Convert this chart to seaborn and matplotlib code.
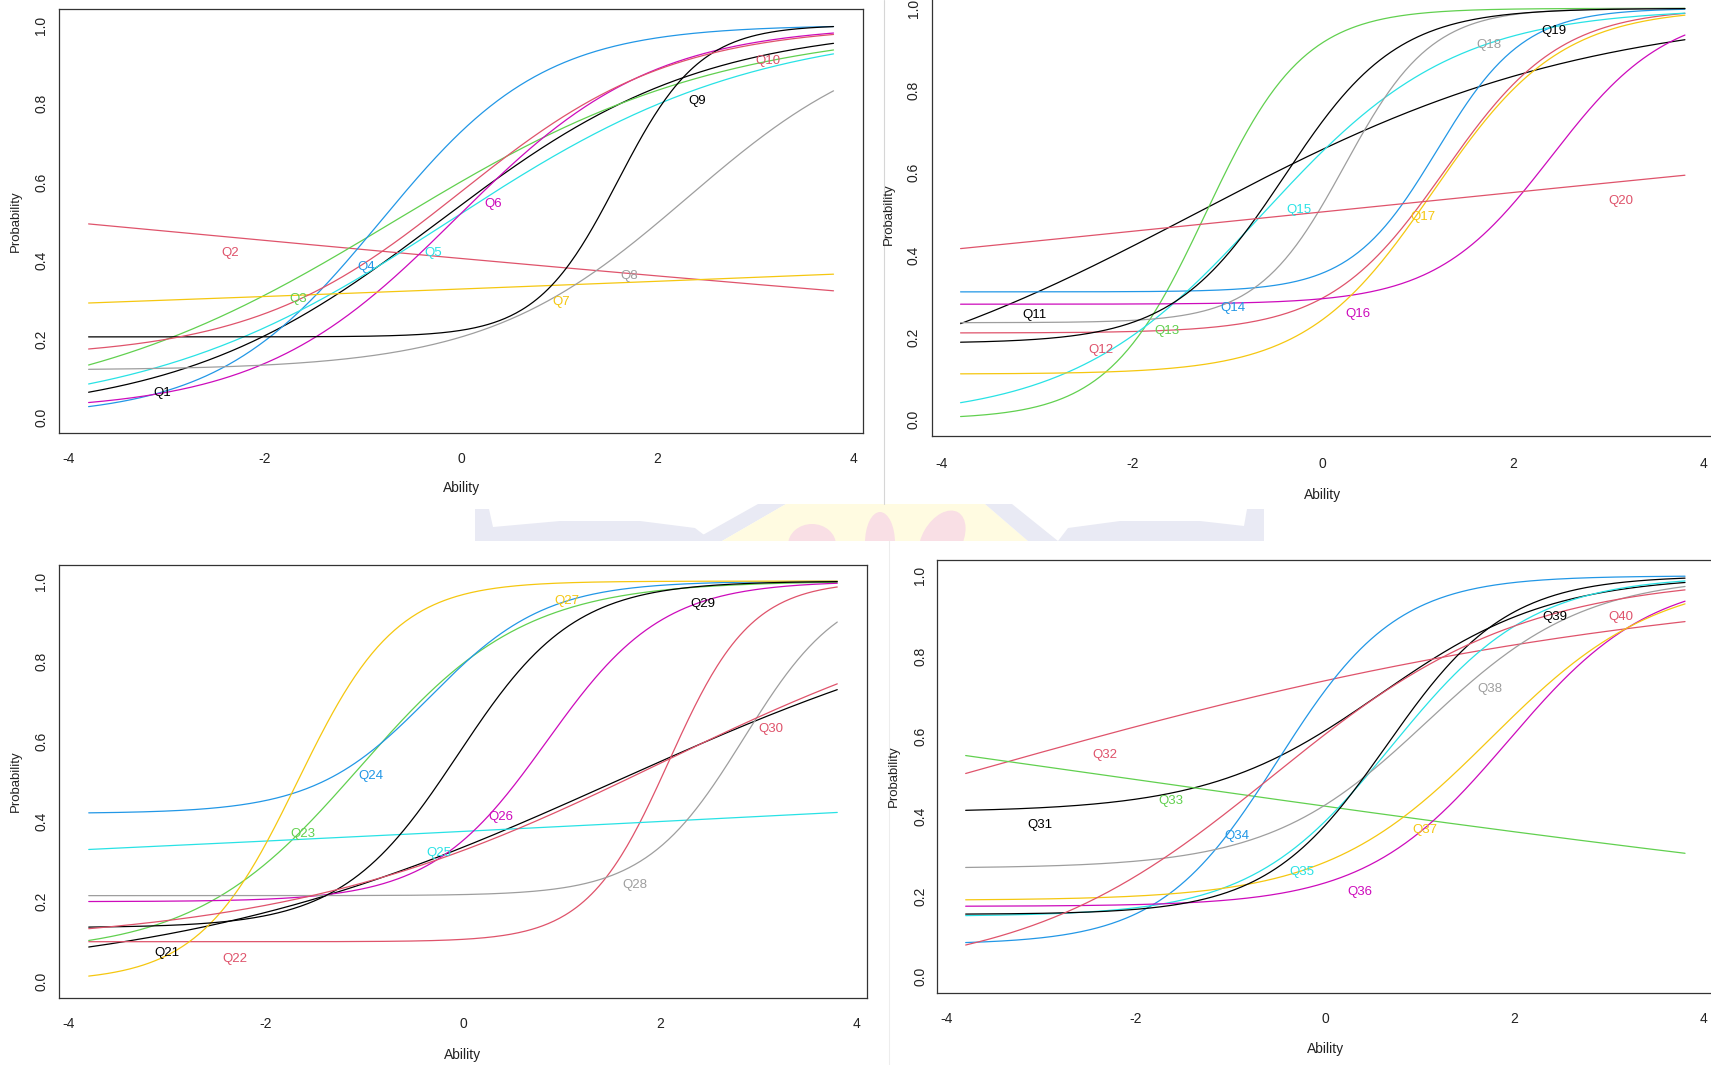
import numpy as np
import pandas as pd
import matplotlib
matplotlib.use("Agg")
import matplotlib.pyplot as plt
from matplotlib.patches import Polygon, Ellipse, Rectangle
import seaborn as sns

sns.set_style("white")
NARROW = ["Liberation Sans Narrow", "Liberation Sans", "DejaVu Sans"]
REGULAR = ["Liberation Sans", "DejaVu Sans"]
plt.rcParams["font.family"] = NARROW

# ---- item parameters (3PL: guessing c, difficulty b, discrimination a) ----
ITEMS_1 = ["Q1", "Q2", "Q3", "Q4", "Q5", "Q6", "Q7", "Q8", "Q9", "Q10"]
GUESS_1 = [0.0, 0.0, 0.0, 0.0, 0.0, 0.015, 0.0, 0.12, 0.205, 0.15]
DIFF_1 = [-0.22, -4.1, -0.68, -0.82, -0.12, -0.05, 16.4, 2.31, 1.6, 0.0]
DISC_1 = [0.75, -0.094, 0.6, 1.2, 0.646, 1.0, 0.044, 0.97, 2.4, 0.93]
LABEL_X_1 = [-3.05, -2.36, -1.66, -0.97, -0.28, 0.33, 1.02, 1.72, 2.41, 3.13]
LABEL_Y_1 = [0.061, 0.418, 0.302, 0.384, 0.42, 0.544, 0.293, 0.36, 0.806, 0.909]

ITEMS_2 = ["Q11", "Q12", "Q13", "Q14", "Q15", "Q16", "Q17", "Q18", "Q19", "Q20"]
GUESS_2 = [0.0, 0.21, 0.0, 0.31, 0.0, 0.28, 0.11, 0.235, 0.185, 0.0]
DIFF_2 = [-1.34, 1.28, -1.23, 1.2, -0.63, 2.4, 1.16, 0.23, -0.4, -0.2]
DISC_2 = [0.485, 1.65, 1.95, 2.2, 1.0, 1.65, 1.5, 2.2, 1.7, 0.095]
LABEL_X_2 = [-3.02, -2.33, -1.63, -0.94, -0.25, 0.37, 1.05, 1.74, 2.43, 3.13]
LABEL_Y_2 = [0.253, 0.168, 0.216, 0.271, 0.51, 0.257, 0.492, 0.911, 0.946, 0.53]

ITEMS_3 = ["Q21", "Q22", "Q23", "Q24", "Q25", "Q26", "Q27", "Q28", "Q29", "Q30"]
GUESS_3 = [0.0, 0.1, 0.07, 0.42, 0.0, 0.2, 0.0, 0.215, 0.135, 0.09]
DIFF_3 = [1.55, 2.09, -1.05, -0.34, 9.8, 0.85, -1.68, 2.85, -0.05, 2.0]
DISC_3 = [0.44, 2.4, 1.2, 1.7, 0.052, 1.7, 2.0, 2.0, 1.7, 0.52]
LABEL_X_3 = [-3.01, -2.32, -1.63, -0.94, -0.24, 0.38, 1.05, 1.75, 2.44, 3.13]
LABEL_Y_3 = [0.071, 0.056, 0.37, 0.514, 0.322, 0.412, 0.95, 0.242, 0.944, 0.631]

ITEMS_4 = ["Q31", "Q32", "Q33", "Q34", "Q35", "Q36", "Q37", "Q38", "Q39", "Q40"]
GUESS_4 = [0.41, 0.0, 0.0, 0.08, 0.15, 0.175, 0.19, 0.27, 0.155, 0.0]
DIFF_4 = [0.58, -3.9, -2.26, -0.5, 0.7, 1.93, 1.75, 1.07, 0.65, -0.56]
DISC_4 = [1.1, 0.266, -0.134, 1.6, 1.35, 1.33, 1.15, 1.2, 1.58, 0.76]
LABEL_X_4 = [-3.02, -2.33, -1.63, -0.94, -0.25, 0.37, 1.05, 1.74, 2.43, 3.12]
LABEL_Y_4 = [0.379, 0.553, 0.438, 0.351, 0.261, 0.21, 0.366, 0.718, 0.898, 0.896]

# R default palette, recycled over the ten items of each plot
R_PALETTE = ["#000000", "#DF536B", "#61D04F", "#2297E6", "#28E2E5",
             "#CD0BBC", "#F5C710", "#9E9E9E", "#000000", "#DF536B"]

X_TICKS = [-4, -2, 0, 2, 4]
X_TICK_LABELS = ["-4", "-2", "0", "2", "4"]
Y_TICKS = [0.0, 0.2, 0.4, 0.6, 0.8, 1.0]
Y_TICK_LABELS = ["0.0", "0.2", "0.4", "0.6", "0.8", "1.0"]

W, H = 1711, 1065
fig = plt.figure(figsize=(W / 100, H / 100), dpi=100)
fig.patch.set_facecolor("white")

# ---- faint logo band between the rows of plots ----
bg = fig.add_axes([0, 0, 1, 1], zorder=-5)
bg.set_xlim(0, W)
bg.set_ylim(H, 0)
bg.axis("off")
band = Rectangle((0, 504), W, 37, transform=bg.transData)
LAV = "#e9eaf4"
YEL = "#fffbe1"
PINK = "#f9dfe5"
shapes = [
    Polygon([(475, 509), (489, 509), (493, 527), (560, 521), (640, 521),
             (695, 528), (712, 541), (475, 541)], closed=True, fc=LAV, ec="none"),
    Polygon([(758, 504), (786, 504), (722, 541), (692, 541)], closed=True, fc=LAV, ec="none"),
    Polygon([(786, 504), (985, 504), (1028, 541), (722, 541)], closed=True, fc=YEL, ec="none"),
    Ellipse((812, 545), 48, 42, fc=PINK, ec="none"),
    Ellipse((880, 543), 30, 62, fc=PINK, ec="none"),
    Ellipse((942, 540), 40, 64, angle=30, fc=PINK, ec="none"),
    Polygon([(985, 504), (1012, 504), (1058, 541), (1028, 541)], closed=True, fc=LAV, ec="none"),
    Polygon([(1058, 541), (1068, 528), (1120, 521), (1200, 521), (1244, 526),
             (1247, 509), (1264, 509), (1264, 541)], closed=True, fc=LAV, ec="none"),
]
for s in shapes:
    bg.add_patch(s)
    s.set_clip_path(band)
bg.plot([884, 884], [0, 504], color="#d6d6d6", lw=0.8)
bg.plot([889, 889], [541, H], color="#ededed", lw=0.8)

ability = np.linspace(-3.8, 3.8, 400)


def icc_frame(items, guess, diff, disc):
    rows = []
    for name, c, b, a in zip(items, guess, diff, disc):
        p = c + (1 - c) / (1 + np.exp(-a * (ability - b)))
        rows.append(pd.DataFrame({"Ability": ability, "Probability": p, "Item": name}))
    return pd.concat(rows, ignore_index=True)


panels = [
    dict(items=ITEMS_1, guess=GUESS_1, diff=DIFF_1, disc=DISC_1, lx=LABEL_X_1, ly=LABEL_Y_1,
         box=(58.8, 863.3, 9.3, 433.0), xt=23.7, xl=55.3, yt=18.4, yl=43.1),
    dict(items=ITEMS_2, guess=GUESS_2, diff=DIFF_2, disc=DISC_2, lx=LABEL_X_2, ly=LABEL_Y_2,
         box=(931.6, 1713.9, -8.1, 435.7), xt=26.0, xl=59.3, yt=18.7, yl=42.8),
    dict(items=ITEMS_3, guess=GUESS_3, diff=DIFF_3, disc=DISC_3, lx=LABEL_X_3, ly=LABEL_Y_3,
         box=(58.8, 867.2, 565.1, 997.8), xt=24.7, xl=57.2, yt=18.4, yl=43.1),
    dict(items=ITEMS_4, guess=GUESS_4, diff=DIFF_4, disc=DISC_4, lx=LABEL_X_4, ly=LABEL_Y_4,
         box=(936.9, 1713.8, 559.8, 992.5), xt=24.5, xl=57.0, yt=17.6, yl=42.9),
]

PX = 72 / 100  # points per pixel
TICK_LEN = 7

for pnl in panels:
    left, right, top, bottom = pnl["box"]
    wpx, hpx = right - left, bottom - top
    ax = fig.add_axes([left / W, 1 - bottom / H, wpx / W, hpx / H])
    ax.set_facecolor("white")
    df = icc_frame(pnl["items"], pnl["guess"], pnl["diff"], pnl["disc"])
    palette = dict(zip(pnl["items"], R_PALETTE))
    sns.lineplot(data=df, x="Ability", y="Probability", hue="Item", hue_order=pnl["items"],
                 palette=palette, estimator=None, sort=False, legend=False,
                 linewidth=0.9, ax=ax)
    for name, x, y, col in zip(pnl["items"], pnl["lx"], pnl["ly"], R_PALETTE):
        ax.text(x, y, name, color=col, fontsize=9.5, ha="center", va="center", family=NARROW)

    ax.set_xlim(-4.104, 4.104)
    ax.set_ylim(-0.04, 1.04)
    ax.set_xticks(X_TICKS)
    ax.set_xticklabels(X_TICK_LABELS)
    ax.set_yticks(Y_TICKS)
    ax.set_yticklabels(Y_TICK_LABELS)
    ax.tick_params(axis="both", direction="out", length=TICK_LEN * PX, width=0.8,
                   color="#333333", labelsize=10, labelcolor="#222222")
    ax.tick_params(axis="x", pad=(pnl["xt"] - TICK_LEN - 5.1) * PX)
    ax.tick_params(axis="y", pad=(pnl["yt"] - TICK_LEN - 7.9) * PX)
    plt.setp(ax.get_yticklabels(), rotation=90, va="center", ha="right")
    for sp in ax.spines.values():
        sp.set_visible(True)
        sp.set_color("#333333")
        sp.set_linewidth(0.9)

    ax.set_xlabel("Ability", fontsize=10, color="#222222", va="center")
    ax.xaxis.set_label_coords(0.5, -pnl["xl"] / hpx)
    ax.set_ylabel("Probability", fontsize=9.5, color="#222222", family=REGULAR,
                  va="center", ha="center")
    ax.yaxis.set_label_coords(-pnl["yl"] / wpx, 0.5)

fig.savefig("out.png", dpi=100, facecolor="white")
